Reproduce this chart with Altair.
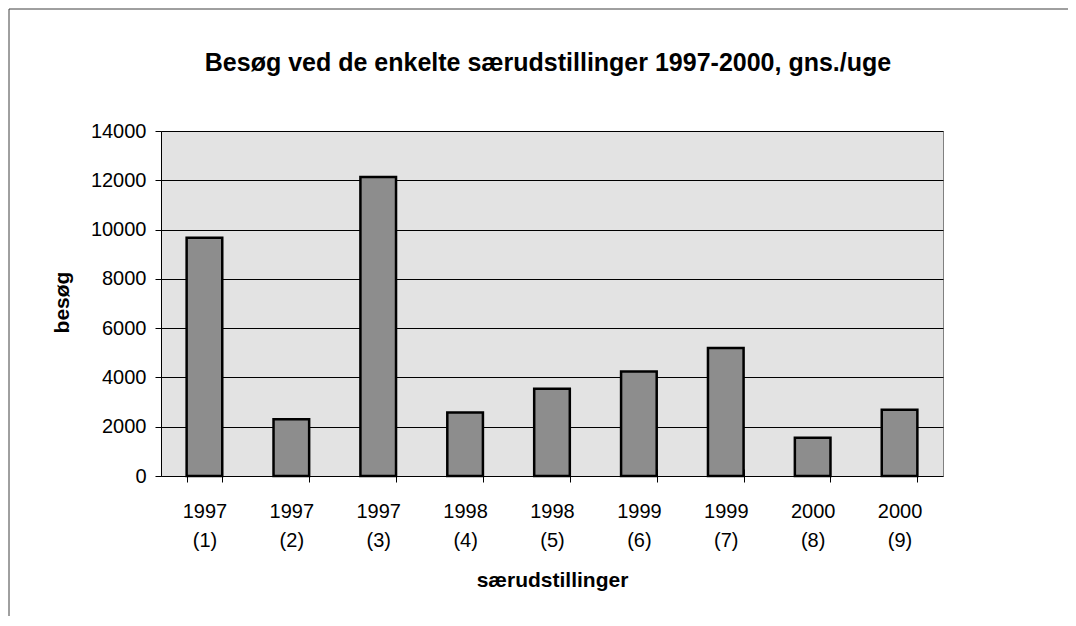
import altair as alt
import pandas as pd

years = ["1997", "1997", "1997", "1998", "1998", "1999", "1999", "2000", "2000"]
numbers = ["(1)", "(2)", "(3)", "(4)", "(5)", "(6)", "(7)", "(8)", "(9)"]
visits = [9670, 2300, 12130, 2580, 3540, 4240, 5190, 1550, 2690]
y_ticks = [0, 2000, 4000, 6000, 8000, 10000, 12000, 14000]

df = pd.DataFrame({
    "cat": [f"{y} {n}" for y, n in zip(years, numbers)],
    "besog": visits,
})

FONT = "Liberation Sans"

bars = alt.Chart(df).mark_bar(
    fill="#8d8d8d", stroke="black", strokeWidth=2.5
).encode(
    x=alt.X(
        "cat:N", sort=None,
        scale=alt.Scale(paddingInner=0.59, paddingOuter=0.295),
        axis=alt.Axis(
            title="særudstillinger", labelAngle=0,
            labelExpr="split(datum.label, ' ')",
            tickBand="extent", tickSize=13, offset=-7, domain=False,
            tickColor="black", tickWidth=1,
            labelPadding=19, labelLineHeight=29, labelBaseline="top",
            labelFontSize=20, labelColor="black", labelFont=FONT,
            titleFontSize=21, titleFontWeight="bold", titleColor="black",
            titleFont=FONT, titleBaseline="alphabetic", titleY=117,
        ),
    ),
    y=alt.Y(
        "besog:Q",
        scale=alt.Scale(domain=[0, 14000], nice=False),
        axis=alt.Axis(
            title="besøg", values=y_ticks, format="d",
            grid=True, gridColor="black", gridWidth=1,
            domain=True, domainColor="black", domainWidth=1,
            tickColor="black", tickSize=6, tickWidth=1,
            labelPadding=9, labelFontSize=20, labelColor="black", labelFont=FONT,
            titleFontSize=21, titleFontWeight="bold", titleColor="black",
            titleFont=FONT, titleAngle=270, titleX=-93, titleY=171,
            titleBaseline="alphabetic", titleAlign="center",
        ),
    ),
)

one = pd.DataFrame({"k": [0]})
frame_left = alt.Chart(one).mark_rule(color="#404040", strokeWidth=1).encode(
    x=alt.value(-152), y=alt.value(-122), y2=alt.value(700)
)
frame_top = alt.Chart(one).mark_rule(color="#404040", strokeWidth=1).encode(
    x=alt.value(-152), x2=alt.value(1100), y=alt.value(-122)
)

chart = alt.layer(bars, frame_left, frame_top).properties(
    width=782, height=345,
    title=alt.TitleParams(
        "Besøg ved de enkelte særudstillinger 1997-2000, gns./uge",
        fontSize=25, fontWeight="bold", font=FONT, color="black",
        anchor="middle", baseline="alphabetic", offset=-87, dx=-4,
    ),
    autosize=alt.AutoSizeParams(type="none"),
    padding={"left": 153, "top": 123, "right": 125, "bottom": 140},
    background="white",
).configure_view(
    fill="#e3e3e3", stroke="#808080", strokeWidth=1
).configure_axis(
    labelFont=FONT, titleFont=FONT
)

chart.save("out.html", embed_options={"renderer": "svg", "actions": False})
